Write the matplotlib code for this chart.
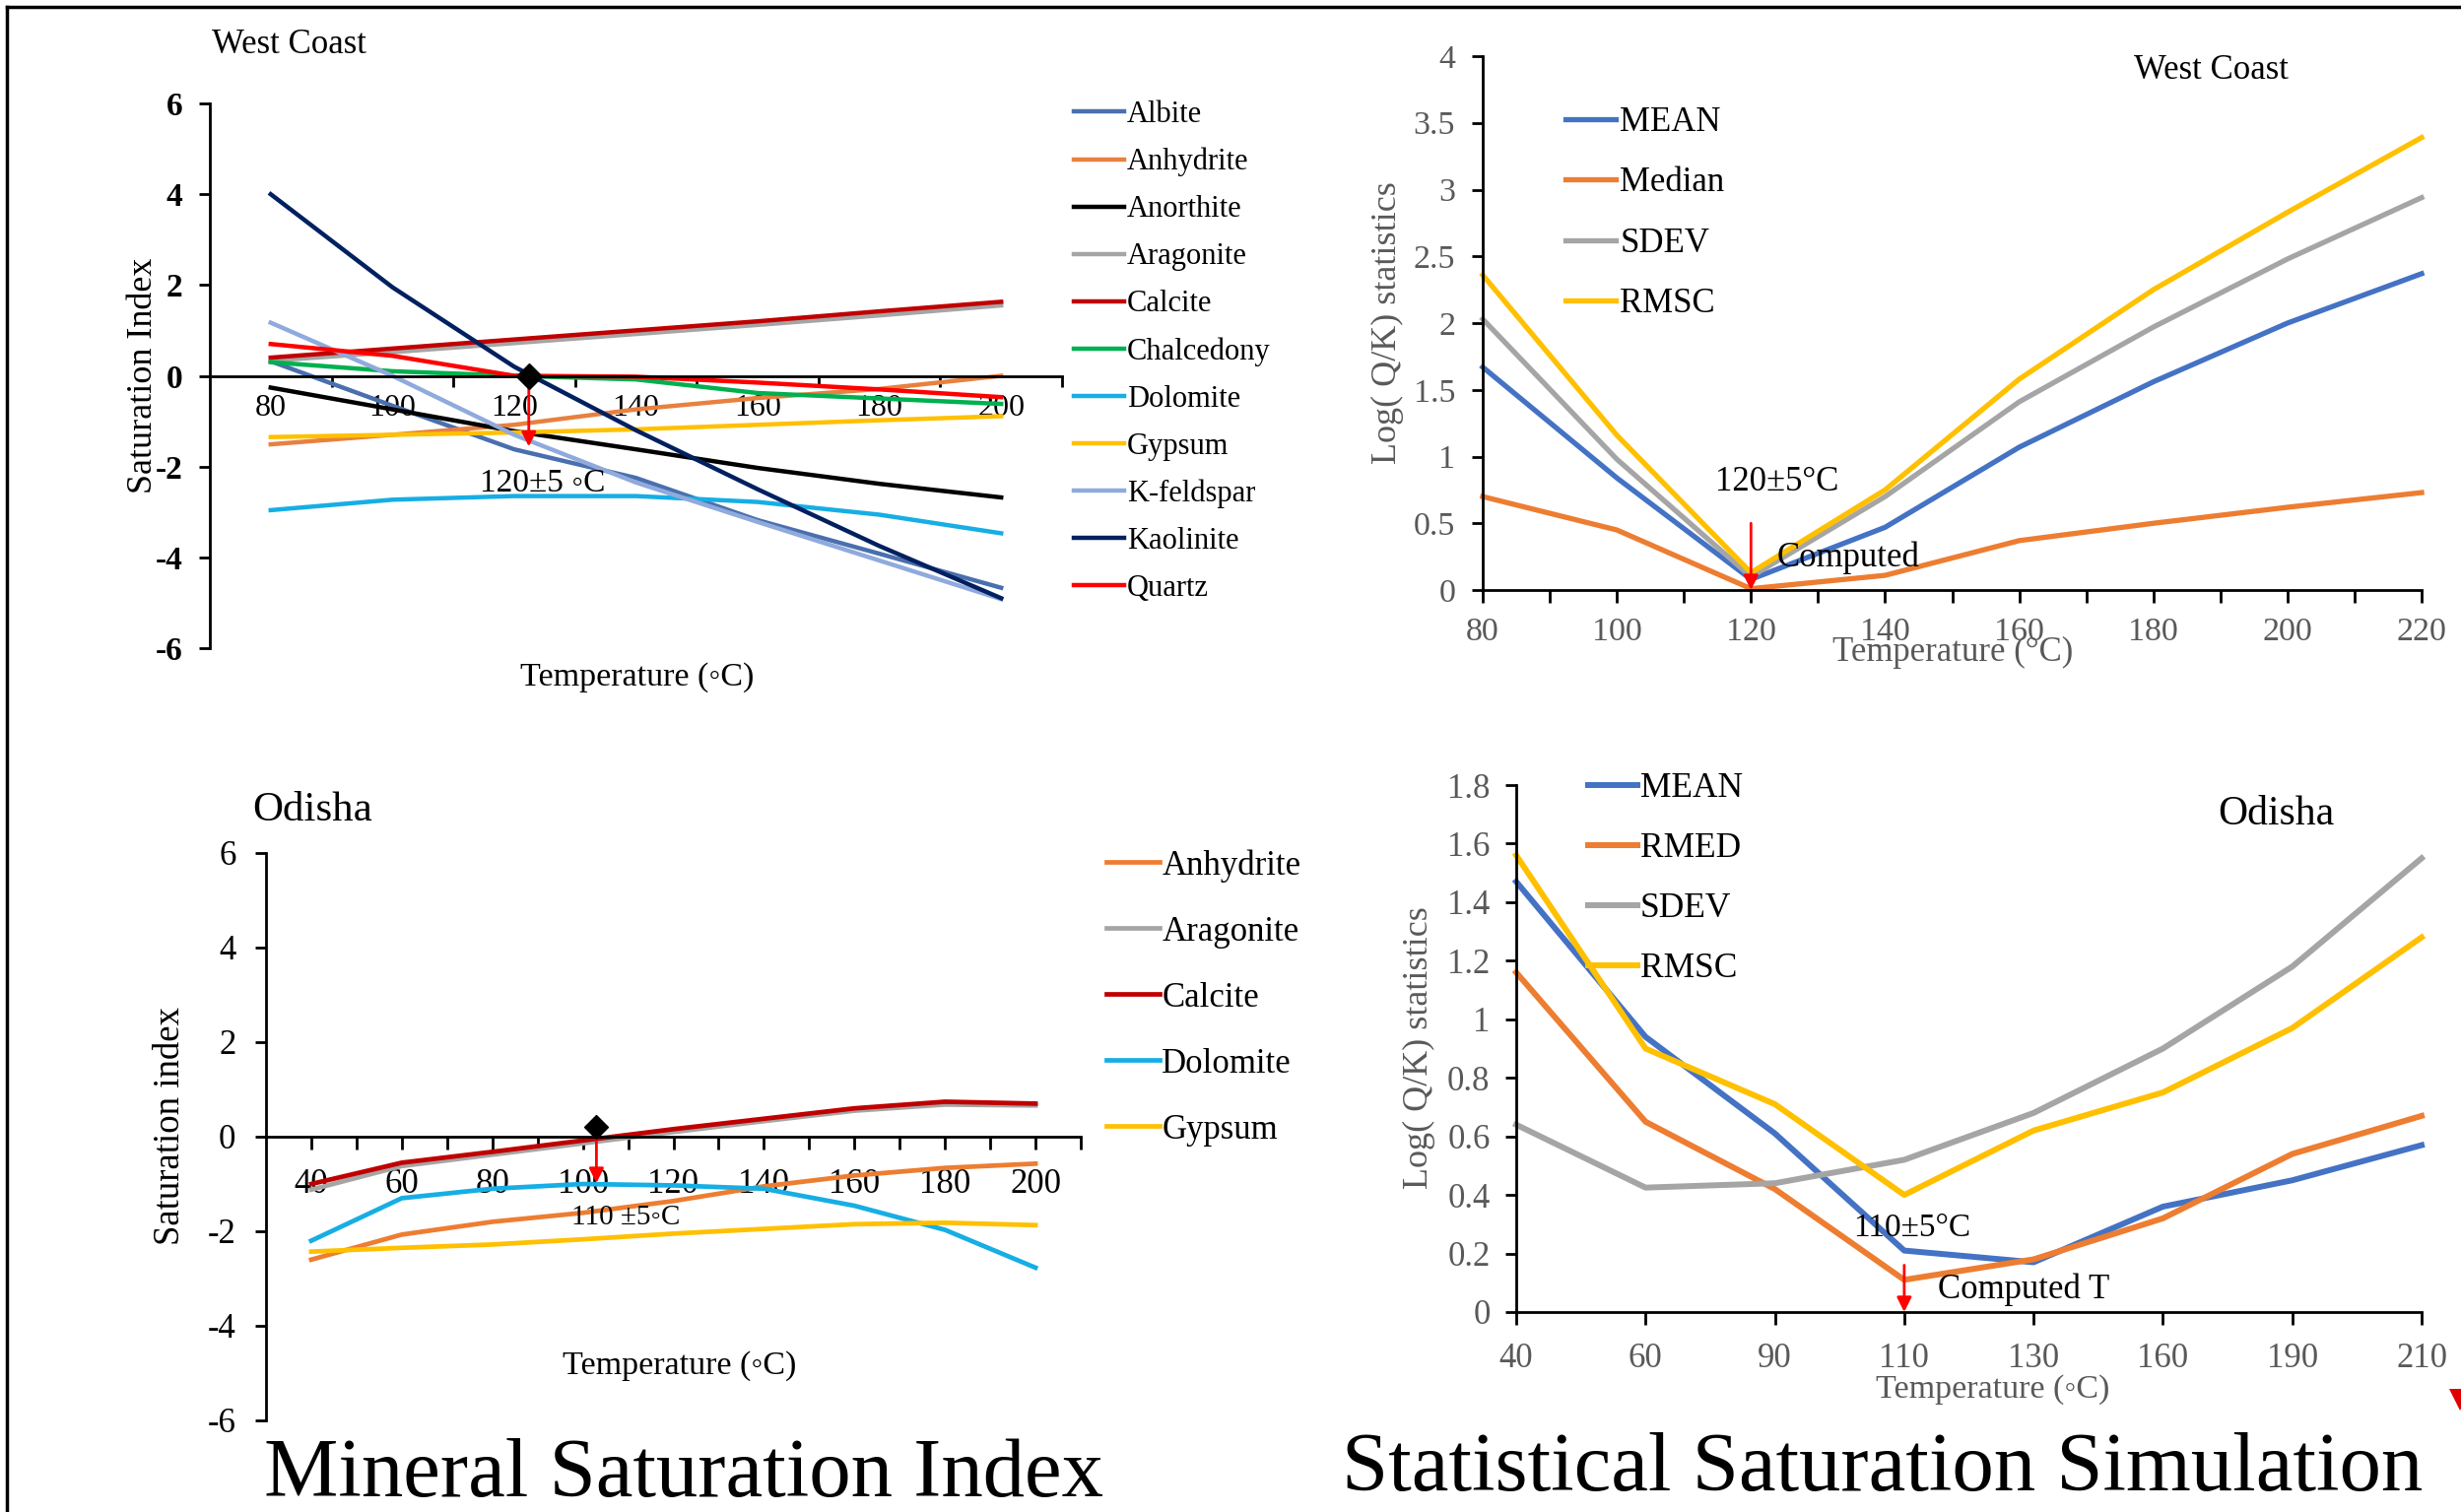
import numpy as np
import matplotlib
matplotlib.use("Agg")
import matplotlib.pyplot as plt
from matplotlib.lines import Line2D
from matplotlib.patches import Polygon
from matplotlib.ticker import FormatStrFormatter

plt.rcParams['font.family'] = ['Liberation Serif', 'DejaVu Sans']
plt.rcParams['axes.unicode_minus'] = False

W, H = 2498, 1535

# ---- West Coast: mineral saturation index ----
wc_temp = [80, 100, 120, 140, 160, 180, 200]
wc_names = ["Albite", "Anhydrite", "Anorthite", "Aragonite", "Calcite", "Chalcedony",
            "Dolomite", "Gypsum", "K-feldspar", "Kaolinite", "Quartz"]
albite = [0.32, -0.66, -1.62, -2.25, -3.18, -3.92, -4.67]
anhydrite = [-1.51, -1.3, -1.08, -0.74, -0.49, -0.29, 0.0]
anorthite = [-0.26, -0.74, -1.22, -1.62, -2.03, -2.38, -2.68]
aragonite = [0.33, 0.52, 0.72, 0.92, 1.12, 1.33, 1.55]
calcite = [0.4, 0.6, 0.8, 1.0, 1.2, 1.42, 1.63]
chalcedony = [0.3, 0.1, 0.0, -0.08, -0.38, -0.5, -0.62]
dolomite = [-2.96, -2.73, -2.65, -2.65, -2.78, -3.06, -3.47]
gypsum = [-1.35, -1.3, -1.25, -1.18, -1.08, -0.98, -0.89]
kfeldspar = [1.17, 0.0, -1.3, -2.35, -3.22, -4.07, -4.92]
kaolinite = [4.0, 1.95, 0.2, -1.2, -2.5, -3.75, -4.9]
quartz = [0.7, 0.44, 0.0, -0.02, -0.15, -0.3, -0.47]
wc_si = [albite, anhydrite, anorthite, aragonite, calcite, chalcedony,
         dolomite, gypsum, kfeldspar, kaolinite, quartz]
wc_colors = ["#4A6FAE", "#E8803F", "#000000", "#A5A5A5", "#C00000", "#00B050",
             "#16AEE4", "#FFC000", "#8FAADC", "#002060", "#FF0000"]
wc_est_T = 122.4
wc_arrow_end = -1.56

# ---- Odisha: mineral saturation index ----
od_temp = [40, 60, 80, 100, 120, 140, 160, 180, 200]
od_names = ["Anhydrite", "Aragonite", "Calcite", "Dolomite", "Gypsum"]
od_anhydrite = [-2.6, -2.07, -1.8, -1.61, -1.36, -1.05, -0.82, -0.66, -0.57]
od_aragonite = [-1.12, -0.62, -0.38, -0.14, 0.1, 0.33, 0.55, 0.68, 0.66]
od_calcite = [-1.0, -0.55, -0.32, -0.08, 0.16, 0.38, 0.6, 0.74, 0.7]
od_dolomite = [-2.2, -1.3, -1.1, -1.0, -1.03, -1.1, -1.46, -1.97, -2.77]
od_gypsum = [-2.43, -2.35, -2.28, -2.17, -2.05, -1.95, -1.85, -1.82, -1.87]
od_si = [od_anhydrite, od_aragonite, od_calcite, od_dolomite, od_gypsum]
od_colors = ["#ED7D31", "#A5A5A5", "#C00000", "#16AEE4", "#FFC000"]
od_est_T = 103
od_est_y = 0.21
od_arrow_end = -0.98

# ---- West Coast: statistics ----
wcs_temp = [80, 100, 120, 140, 160, 180, 200, 220]
wcs_names = ["MEAN", "Median", "SDEV", "RMSC"]
wcs_mean = [1.67, 0.84, 0.08, 0.47, 1.07, 1.56, 2.0, 2.37]
wcs_median = [0.7, 0.45, 0.01, 0.11, 0.37, 0.5, 0.62, 0.73]
wcs_sdev = [2.03, 0.98, 0.1, 0.7, 1.41, 1.97, 2.48, 2.94]
wcs_rmsc = [2.36, 1.16, 0.13, 0.75, 1.58, 2.25, 2.83, 3.39]
wcs_vals = [wcs_mean, wcs_median, wcs_sdev, wcs_rmsc]
stat_colors = ["#4472C4", "#ED7D31", "#A5A5A5", "#FFC000"]

# ---- Odisha: statistics (category axis) ----
ods_temp = ["40", "60", "90", "110", "130", "160", "190", "210"]
ods_names = ["MEAN", "RMED", "SDEV", "RMSC"]
ods_mean = [1.47, 0.94, 0.61, 0.21, 0.17, 0.36, 0.45, 0.57]
ods_rmed = [1.16, 0.65, 0.42, 0.11, 0.18, 0.32, 0.54, 0.67]
ods_sdev = [0.64, 0.425, 0.44, 0.52, 0.68, 0.9, 1.18, 1.55]
ods_rmsc = [1.56, 0.9, 0.71, 0.4, 0.62, 0.75, 0.97, 1.28]
ods_vals = [ods_mean, ods_rmed, ods_sdev, ods_rmsc]

GRAY = "#595959"

fig = plt.figure(figsize=(W / 100, H / 100), dpi=100)


def px_axes(l, t, r, b):
    return fig.add_axes([l / W, 1 - b / H, (r - l) / W, (b - t) / H])


def fp(x, y):
    return x / W, 1 - y / H


def ftext(x, y, s, **kw):
    fig.text(x / W, 1 - y / H, s, **kw)


def red_arrow(ax, x, y0, y1):
    ax.annotate("", xy=(x, y1), xytext=(x, y0),
                arrowprops=dict(arrowstyle="-|>", color="#FF0000", lw=2,
                                mutation_scale=22, shrinkA=0, shrinkB=0))


def legend_at(ax, x, y, fs, hl, pad, spacing):
    ax.legend(loc="upper left", bbox_to_anchor=fp(x, y), bbox_transform=fig.transFigure,
              frameon=False, borderpad=0, borderaxespad=0, fontsize=fs,
              handlelength=hl, handletextpad=pad, labelspacing=spacing)


# ================= top-left: West Coast SI =================
ax1 = px_axes(213, 105, 1078, 658)
for name, vals, c in zip(wc_names, wc_si, wc_colors):
    ax1.plot(wc_temp, vals, color=c, lw=3.2, label=name, clip_on=False)
ax1.set_xlim(70, 210)
ax1.set_ylim(-6, 6)
ax1.spines[['top', 'right']].set_visible(False)
ax1.spines['bottom'].set_position(('data', 0))
ax1.spines[['left', 'bottom']].set_linewidth(2)
ax1.set_yticks(range(-6, 7, 2), labels=[str(v) for v in range(-6, 7, 2)], fontweight='bold')
ax1.set_xticks(range(90, 211, 20), labels=[""] * 7)
ax1.set_xticks(wc_temp, labels=[str(t) for t in wc_temp], minor=True)
ax1.tick_params(axis='x', which='major', direction='out', length=8, width=2)
ax1.tick_params(axis='x', which='minor', length=0, pad=13, labelsize=23)
ax1.tick_params(axis='y', direction='out', length=8, width=2, pad=12, labelsize=24)
ax1.plot([wc_est_T], [0], marker='D', color='black', ms=13, clip_on=False, zorder=5)
red_arrow(ax1, wc_est_T, 0, wc_arrow_end)
ax1.text(124.7, -2.36, "120±5 ◦C", fontsize=24, ha='center', va='center')
ax1.set_ylabel("Saturation Index", fontsize=26, va='center')
ax1.yaxis.set_label_coords(*fp(145, 381), transform=fig.transFigure)
ax1.set_xlabel("Temperature (◦C)", fontsize=24.5, va='center')
ax1.xaxis.set_label_coords(*fp(647, 688), transform=fig.transFigure)
ftext(215, 45, "West Coast", fontsize=25, ha='left', va='center')
legend_at(ax1, 1090, 102, 22, 1.67, 0.1, 0.62)

# ================= top-right: West Coast statistics =================
ax2 = px_axes(1505, 57, 2458, 599)
for name, vals, c in zip(wcs_names, wcs_vals, stat_colors):
    ax2.plot(wcs_temp, vals, color=c, lw=3.8, label=name, clip_on=False)
ax2.set_xlim(80, 220)
ax2.set_ylim(0, 4)
ax2.spines[['top', 'right']].set_visible(False)
ax2.spines[['left', 'bottom']].set_linewidth(2)
ax2.set_xticks(wcs_temp)
ax2.set_xticks(range(90, 211, 20), minor=True)
ax2.set_yticks(np.arange(0, 4.01, 0.5))
ax2.yaxis.set_major_formatter(FormatStrFormatter('%g'))
ax2.tick_params(axis='x', which='both', direction='out', length=9, width=2)
ax2.tick_params(axis='x', which='major', pad=11, labelsize=24.5, labelcolor=GRAY)
ax2.tick_params(axis='y', direction='out', length=8, width=2, pad=12, labelsize=24.5,
                labelcolor=GRAY)
red_arrow(ax2, 120, 0.5, 0)
ax2.text(123.9, 0.81, "120±5°C", fontsize=25, ha='center', va='center')
ax2.text(123.9, 0.24, "Computed", fontsize=25, ha='left', va='center')
ax2.set_ylabel("Log( Q/K) statistics", fontsize=26, color=GRAY, va='center')
ax2.yaxis.set_label_coords(*fp(1408, 328), transform=fig.transFigure)
ax2.set_xlabel("Temperature (°C)", fontsize=25, color=GRAY, va='center')
ax2.xaxis.set_label_coords(*fp(1982, 662), transform=fig.transFigure)
ftext(2244, 71, "West Coast", fontsize=25, ha='center', va='center')
legend_at(ax2, 1589, 108, 25, 1.47, 0.12, 0.82)

# ================= bottom-left: Odisha SI =================
ax3 = px_axes(270, 866, 1097, 1442)
for name, vals, c in zip(od_names, od_si, od_colors):
    ax3.plot(od_temp, vals, color=c, lw=3.4, label=name, clip_on=False)
ax3.set_xlim(30, 210)
ax3.set_ylim(-6, 6)
ax3.spines[['top', 'right']].set_visible(False)
ax3.spines['bottom'].set_position(('data', 0))
ax3.spines[['left', 'bottom']].set_linewidth(2)
ax3.set_yticks(range(-6, 7, 2))
ax3.set_xticks(od_temp)
ax3.set_xticks(range(50, 211, 20), minor=True)
ax3.tick_params(axis='x', which='both', direction='out', length=9, width=2)
ax3.tick_params(axis='x', which='major', pad=14, labelsize=25)
ax3.tick_params(axis='y', direction='out', length=8, width=2, pad=14, labelsize=25)
ax3.plot([od_est_T], [od_est_y], marker='D', color='black', ms=12, clip_on=False, zorder=5)
red_arrow(ax3, od_est_T, 0, od_arrow_end)
ax3.text(109.5, -1.71, "110 ±5◦C", fontsize=21, ha='center', va='center')
ax3.set_ylabel("Saturation index", fontsize=26.5, va='center')
ax3.yaxis.set_label_coords(*fp(173, 1143), transform=fig.transFigure)
ax3.set_xlabel("Temperature (◦C)", fontsize=24.5, va='center')
ax3.xaxis.set_label_coords(*fp(690, 1387), transform=fig.transFigure)
ftext(256, 823, "Odisha", fontsize=31, ha='left', va='center')
legend_at(ax3, 1123, 862, 25, 1.56, 0.06, 0.98)

# ================= bottom-right: Odisha statistics =================
ax4 = px_axes(1539, 797, 2458, 1332)
xcat = np.arange(len(ods_temp))
for name, vals, c in zip(ods_names, ods_vals, stat_colors):
    ax4.plot(xcat, vals, color=c, lw=4.3, label=name, clip_on=False)
ax4.set_xlim(0, len(ods_temp) - 1)
ax4.set_ylim(0, 1.8)
ax4.spines[['top', 'right']].set_visible(False)
ax4.spines[['left', 'bottom']].set_linewidth(2)
ax4.set_xticks(xcat, labels=ods_temp)
ax4.set_yticks(np.arange(0, 1.81, 0.2))
ax4.yaxis.set_major_formatter(FormatStrFormatter('%g'))
ax4.tick_params(axis='x', direction='out', length=9, width=2, pad=13, labelsize=25,
                labelcolor=GRAY)
ax4.tick_params(axis='y', direction='out', length=8, width=2, pad=11, labelsize=25,
                labelcolor=GRAY)
red_arrow(ax4, 3, 0.16, 0)
ax4.text(3.06, 0.286, "110±5°C", fontsize=24, ha='center', va='center')
ax4.text(3.26, 0.077, "Computed T", fontsize=25, ha='left', va='center')
ax4.set_ylabel("Log( Q/K) statistics", fontsize=26, color=GRAY, va='center')
ax4.yaxis.set_label_coords(*fp(1440, 1064), transform=fig.transFigure)
ax4.set_xlabel("Temperature (◦C)", fontsize=24.5, color=GRAY, va='center')
ax4.xaxis.set_label_coords(*fp(2023, 1411), transform=fig.transFigure)
ftext(2310, 827, "Odisha", fontsize=30, ha='center', va='center')
legend_at(ax4, 1612, 784, 25.5, 1.41, 0.08, 0.79)

# ---- captions and frame ----
ftext(694, 1499, "Mineral Saturation Index", fontsize=61, ha='center', va='center')
ftext(1911, 1492, "Statistical Saturation Simulation", fontsize=61, ha='center', va='center')

fig.add_artist(Line2D([7 / W, 1], [1 - 7 / H, 1 - 7 / H], transform=fig.transFigure,
                      color='black', lw=2.5))
fig.add_artist(Line2D([7 / W, 7 / W], [0, 1 - 7 / H], transform=fig.transFigure,
                      color='black', lw=2.5))
fig.add_artist(Polygon([fp(2486, 1410), fp(2508, 1410), fp(2497, 1432)], closed=True,
                       transform=fig.transFigure, color='#E00000', lw=0))

fig.savefig("out.png", dpi=100)
